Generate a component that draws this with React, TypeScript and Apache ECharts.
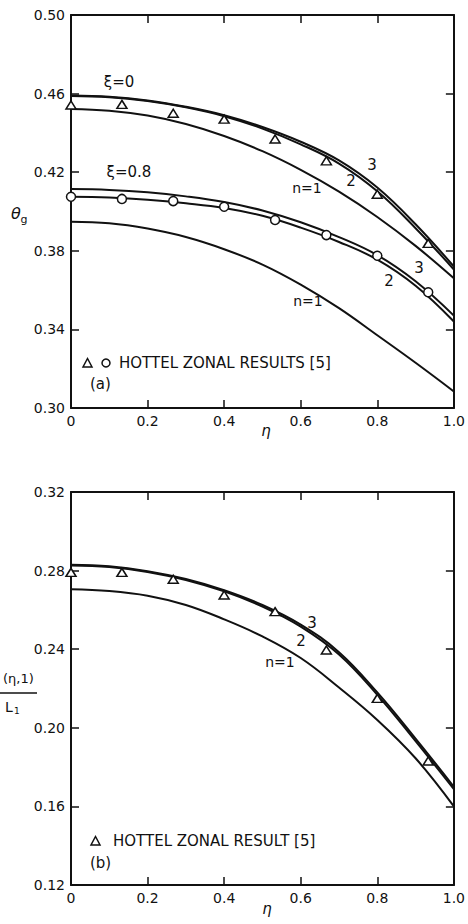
import React, { useEffect, useRef } from "react";
import * as echarts from "echarts";

// eta grid for computed curves
const ETA = [0, 0.1, 0.2, 0.3, 0.4, 0.5, 0.6, 0.7, 0.8, 0.9, 1.0];

// (a) xi = 0
const A_XI0_N3 = [0.459, 0.4584, 0.4565, 0.4533, 0.449, 0.443, 0.4355, 0.426, 0.4122, 0.3935, 0.372];
const A_XI0_N2 = [0.4588, 0.4582, 0.4562, 0.453, 0.4485, 0.4422, 0.4342, 0.4244, 0.4103, 0.3915, 0.3705];
const A_XI0_N1 = [0.4522, 0.4513, 0.4488, 0.4445, 0.4384, 0.4307, 0.4212, 0.4101, 0.3972, 0.3825, 0.366];
// (a) xi = 0.8
const A_XI08_N3 = [0.4114, 0.411, 0.4098, 0.4077, 0.4048, 0.4005, 0.3945, 0.387, 0.3778, 0.3645, 0.347];
const A_XI08_N2 = [0.4075, 0.4071, 0.406, 0.4042, 0.4018, 0.3978, 0.3918, 0.3845, 0.3755, 0.3622, 0.344];
const A_XI08_N1 = [0.3948, 0.394, 0.3913, 0.387, 0.3808, 0.373, 0.3628, 0.3508, 0.337, 0.323, 0.3084];
// (b)
const B_N3 = [0.283, 0.2822, 0.2797, 0.2757, 0.27, 0.2625, 0.2525, 0.2385, 0.218, 0.1945, 0.17];
const B_N2 = [0.2826, 0.2818, 0.2793, 0.2752, 0.2694, 0.2617, 0.2515, 0.2373, 0.2168, 0.1932, 0.1688];
const B_N1 = [0.2705, 0.2696, 0.2672, 0.2625, 0.2552, 0.2465, 0.2355, 0.2205, 0.204, 0.1845, 0.16];

// Hottel zonal results
const HOTTEL_ETA = [0, 0.133, 0.267, 0.4, 0.533, 0.667, 0.8, 0.933];
const HOTTEL_A_XI0 = [0.4542, 0.4545, 0.45, 0.447, 0.4369, 0.4258, 0.4088, 0.3838];
const HOTTEL_A_XI08 = [0.4075, 0.4064, 0.4053, 0.4024, 0.3957, 0.388, 0.3775, 0.3589];
const HOTTEL_B = [0.2791, 0.2791, 0.2756, 0.2676, 0.2591, 0.2396, 0.215, 0.1831];

// tick values
const X_TICKS = [0, 0.2, 0.4, 0.6, 0.8, 1.0];
const A_Y_TICKS = [0.3, 0.34, 0.38, 0.42, 0.46, 0.5];
const B_Y_TICKS = [0.12, 0.16, 0.2, 0.24, 0.28, 0.32];

const INK = "#111";
const FONT = "DejaVu Sans";

const zip = (xs: number[], ys: number[]) => xs.map((x, i) => [x, ys[i]]);

function xAxis(gridIndex: number, position: string, labels: boolean) {
  return {
    type: "value",
    gridIndex,
    position,
    min: X_TICKS[0],
    max: X_TICKS[X_TICKS.length - 1],
    interval: 0.2,
    axisLine: { show: true, onZero: false, lineStyle: { color: INK, width: 2 } },
    axisTick: { show: true, inside: true, length: 8, lineStyle: { color: INK, width: 1.5 } },
    axisLabel: {
      show: labels,
      color: INK,
      fontSize: 14,
      fontFamily: FONT,
      margin: 6,
      formatter: (v: number) => (v === 0 ? "0" : v.toFixed(1)),
    },
    splitLine: { show: false },
  };
}

function yAxis(gridIndex: number, position: string, labels: boolean, ticks: number[]) {
  return {
    type: "value",
    gridIndex,
    position,
    min: ticks[0],
    max: ticks[ticks.length - 1],
    axisLine: { show: true, onZero: false, lineStyle: { color: INK, width: 2 } },
    axisTick: { show: true, inside: true, length: 8, customValues: ticks, lineStyle: { color: INK, width: 1.5 } },
    axisLabel: {
      show: labels,
      customValues: ticks,
      color: INK,
      fontSize: 14,
      fontFamily: FONT,
      margin: 6,
      formatter: (v: number) => v.toFixed(2),
    },
    splitLine: { show: false },
  };
}

function curve(data: number[], xi: number, yi: number) {
  return {
    type: "line",
    xAxisIndex: xi,
    yAxisIndex: yi,
    data: zip(ETA, data),
    smooth: 0.4,
    symbol: "none",
    lineStyle: { color: INK, width: 2 },
    z: 2,
  };
}

function points(data: number[], symbol: string, size: any, xi: number, yi: number) {
  return {
    type: "scatter",
    xAxisIndex: xi,
    yAxisIndex: yi,
    data: zip(HOTTEL_ETA, data),
    symbol,
    symbolSize: size,
    itemStyle: { color: "#fff", borderColor: INK, borderWidth: 1.5, opacity: 1 },
    z: 5,
  };
}

function txt(text: string, x: number, y: number, size = 14, align = "center", extra: any = {}) {
  return {
    type: "text",
    x,
    y,
    z: 10,
    style: {
      text,
      fill: INK,
      font: `${extra.italic ? "italic " : ""}${size}px "${FONT}"`,
      textAlign: align,
      textVerticalAlign: "middle",
    },
  };
}

export default function App() {
  const ref = useRef<HTMLDivElement>(null);
  useEffect(() => {
    if (!ref.current) return;
    const chart = echarts.init(ref.current, null, { renderer: "svg" });
    const option: any = {
      animation: false,
      backgroundColor: "#fff",
      grid: [
        { left: 71, top: 15, width: 394, height: 393 },
        { left: 71, top: 492, width: 394, height: 393 },
      ],
      xAxis: [xAxis(0, "bottom", true), xAxis(0, "top", false), xAxis(1, "bottom", true), xAxis(1, "top", false)],
      yAxis: [
        yAxis(0, "left", true, A_Y_TICKS),
        yAxis(0, "right", false, A_Y_TICKS),
        yAxis(1, "left", true, B_Y_TICKS),
        yAxis(1, "right", false, B_Y_TICKS),
      ],
      series: [
        curve(A_XI0_N3, 0, 0),
        curve(A_XI0_N2, 0, 0),
        curve(A_XI0_N1, 0, 0),
        curve(A_XI08_N3, 0, 0),
        curve(A_XI08_N2, 0, 0),
        curve(A_XI08_N1, 0, 0),
        points(HOTTEL_A_XI0, "triangle", [10, 8], 0, 0),
        points(HOTTEL_A_XI08, "circle", 9, 0, 0),
        curve(B_N3, 2, 2),
        curve(B_N2, 2, 2),
        curve(B_N1, 2, 2),
        points(HOTTEL_B, "triangle", [10, 8], 2, 2),
      ],
      graphic: [
        // panel (a) annotations
        txt("ξ=0", 119, 82, 15),
        txt("ξ=0.8", 129, 172, 15),
        txt("3", 372, 165, 15),
        txt("2", 351, 181, 15),
        txt("n=1", 307, 188, 14),
        txt("3", 419, 268, 15),
        txt("2", 389, 281, 15),
        txt("n=1", 308, 301, 14),
        txt("θ", 16, 213, 16, "center", { italic: true }),
        txt("g", 24, 219, 11, "center"),
        txt("η", 266, 431, 15, "center", { italic: true }),
        {
          type: "polygon",
          z: 10,
          shape: { points: [[83, 367], [92, 367], [87.5, 358.5]] },
          style: { fill: "#fff", stroke: INK, lineWidth: 1.5 },
        },
        { type: "circle", z: 10, shape: { cx: 106, cy: 363, r: 4 }, style: { fill: "#fff", stroke: INK, lineWidth: 1.5 } },
        txt("HOTTEL ZONAL RESULTS [5]", 119, 363, 15, "left"),
        txt("(a)", 90, 384, 15, "left"),
        // panel (b) annotations
        txt("3", 312, 623, 15),
        txt("2", 301, 641, 15),
        txt("n=1", 280, 662, 14),
        txt("(η,1)", 3, 678, 13, "left"),
        { type: "line", z: 10, shape: { x1: 0, y1: 693, x2: 37, y2: 693 }, style: { stroke: INK, lineWidth: 1.5 } },
        txt("L", 5, 707, 14, "left"),
        txt("1", 14, 711, 9, "left"),
        txt("η", 267, 909, 15, "center", { italic: true }),
        {
          type: "polygon",
          z: 10,
          shape: { points: [[91, 845], [100, 845], [95.5, 836.5]] },
          style: { fill: "#fff", stroke: INK, lineWidth: 1.5 },
        },
        txt("HOTTEL ZONAL RESULT [5]", 113, 841, 15, "left"),
        txt("(b)", 90, 863, 15, "left"),
      ],
    };
    chart.setOption(option);
    return () => chart.dispose();
  }, []);
  return (
    <div
      ref={ref}
      style={{ position: "absolute", left: 0, top: 0, width: 468, height: 924, background: "#fff" }}
    />
  );
}
